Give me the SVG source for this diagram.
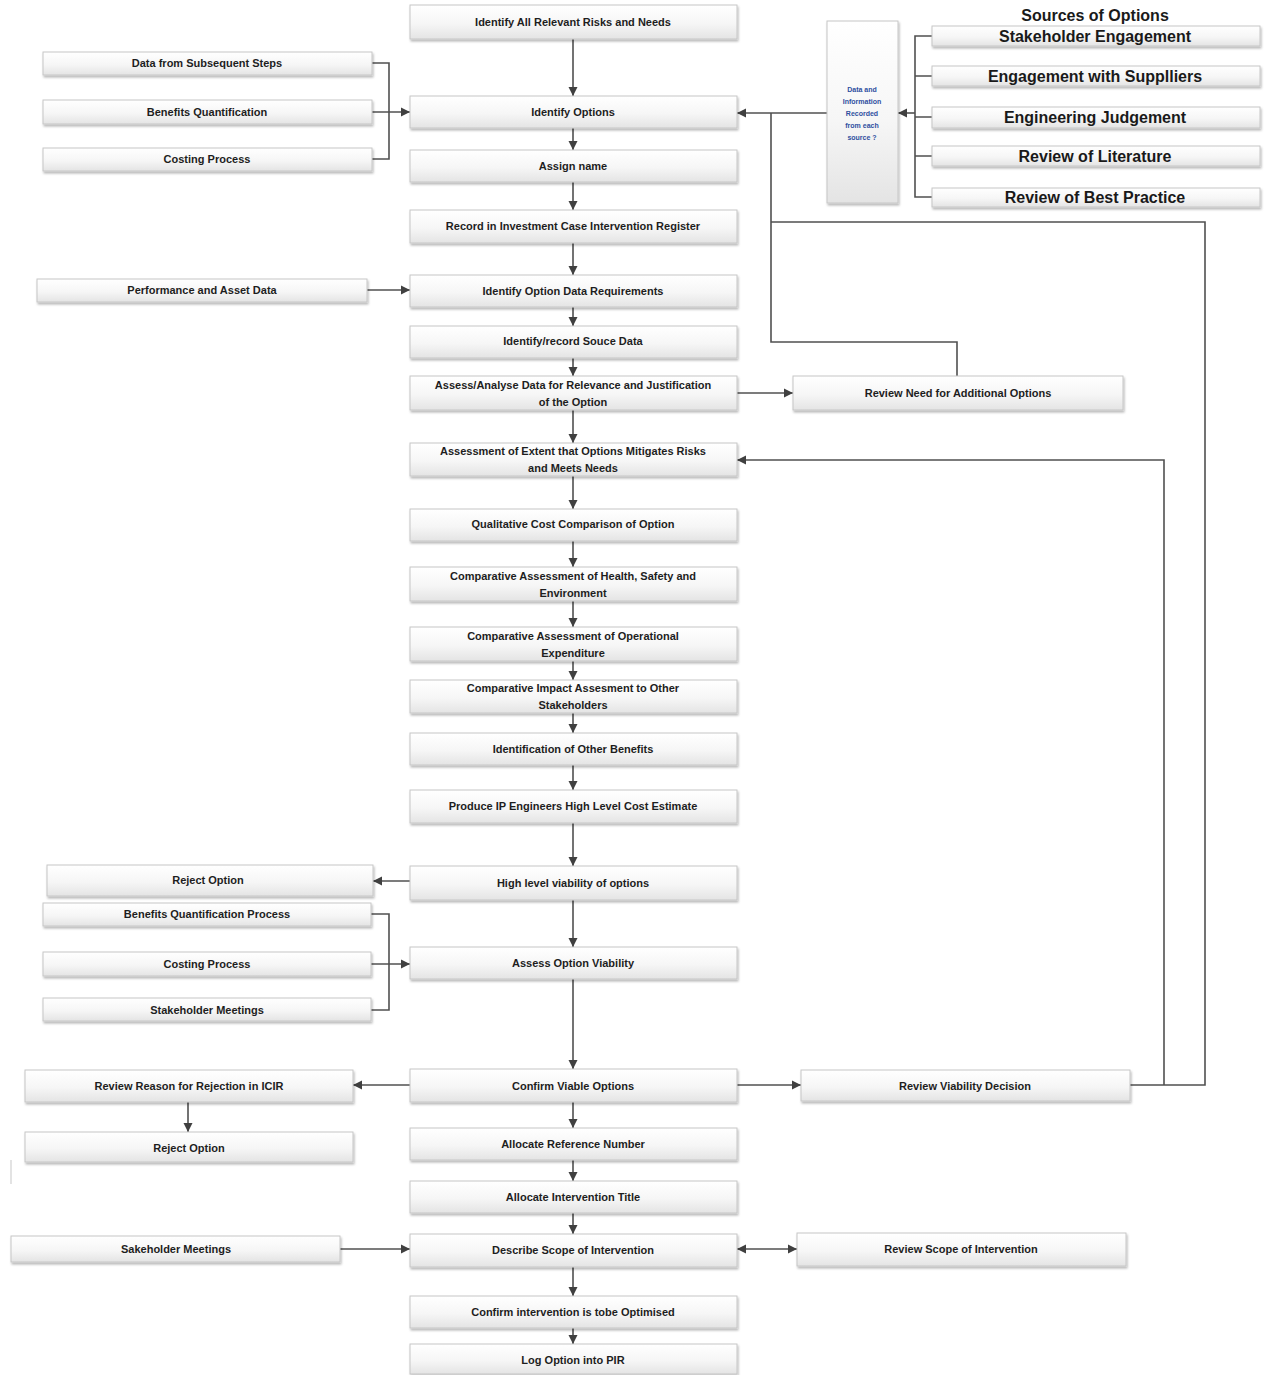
<svg xmlns="http://www.w3.org/2000/svg" width="1268" height="1375" viewBox="0 0 1268 1375">
  <defs>
    <linearGradient id="boxFill" x1="0" y1="0" x2="0" y2="1">
      <stop offset="0" stop-color="#ffffff"/>
      <stop offset="0.55" stop-color="#f6f6f6"/>
      <stop offset="1" stop-color="#e4e4e4"/>
    </linearGradient>
    <filter id="shadow" x="-5%" y="-20%" width="110%" height="160%">
      <feDropShadow dx="1" dy="2" stdDeviation="1" flood-color="#000" flood-opacity="0.28"/>
    </filter>
    <marker id="arrow" markerUnits="userSpaceOnUse" markerWidth="10" markerHeight="10" refX="9" refY="5" orient="auto-start-reverse">
      <path d="M0,0.5 L9,5 L0,9.5 z" fill="#404040"/>
    </marker>
    <style>
      .box { fill: url(#boxFill); stroke: #c6c6c6; stroke-width: 1; filter: url(#shadow); }
      .t { font-family: "Liberation Sans", Arial, sans-serif; font-weight: bold; font-size: 11px; fill: #1e1e1e; text-anchor: middle; dominant-baseline: central; }
      .big { font-size: 16px; fill: #1a1a1a; }
      .note { font-family: "Liberation Sans", Arial, sans-serif; font-weight: bold; font-size: 7px; fill: #2f4f9f; text-anchor: middle; }
      .ln { fill: none; stroke: #505050; stroke-width: 1.6; }
      .arr { marker-end: url(#arrow); }
      .both { marker-start: url(#arrow); marker-end: url(#arrow); }
    </style>
  </defs>

  <!-- connectors -->
  <g id="connectors">
    <!-- main column -->
    <path class="ln arr" d="M573,39 V96"/>
    <path class="ln arr" d="M573,128 V150"/>
    <path class="ln arr" d="M573,182 V210"/>
    <path class="ln arr" d="M573,243 V275"/>
    <path class="ln arr" d="M573,307 V326"/>
    <path class="ln arr" d="M573,358 V376"/>
    <path class="ln arr" d="M573,410 V443"/>
    <path class="ln arr" d="M573,476 V509"/>
    <path class="ln arr" d="M573,541 V567"/>
    <path class="ln arr" d="M573,601 V627"/>
    <path class="ln arr" d="M573,661 V680"/>
    <path class="ln arr" d="M573,713 V733"/>
    <path class="ln arr" d="M573,765 V790"/>
    <path class="ln arr" d="M573,823 V866"/>
    <path class="ln arr" d="M573,900 V947"/>
    <path class="ln arr" d="M573,979 V1069"/>
    <path class="ln arr" d="M573,1102 V1128"/>
    <path class="ln arr" d="M573,1160 V1181"/>
    <path class="ln arr" d="M573,1213 V1234"/>
    <path class="ln arr" d="M573,1267 V1296"/>
    <path class="ln arr" d="M573,1328 V1344"/>

    <!-- inputs to Identify Options -->
    <path class="ln" d="M372,63 H389 V159 H372"/>
    <path class="ln arr" d="M372,112 H410"/>
    <!-- performance data -->
    <path class="ln arr" d="M367,290 H410"/>

    <!-- sources of options -->
    <path class="ln" d="M932,36 H915 V197 H932"/>
    <path class="ln" d="M915,76 H932 M915,117 H932 M915,156 H932"/>
    <path class="ln arr" d="M915,113 H898"/>
    <path class="ln arr" d="M827,113 H737"/>

    <!-- feedback loops -->
    <path class="ln" d="M957,376 V342 H771 V113"/>
    <path class="ln" d="M771,222 H1205 V1085 H1130"/>
    <path class="ln arr" d="M1164,1085 V460 H737"/>
    <path class="ln arr" d="M737,393 H793"/>

    <!-- viability -->
    <path class="ln arr" d="M410,881 H373"/>
    <path class="ln" d="M371,914 H389 V1010 H371"/>
    <path class="ln arr" d="M371,964 H410"/>
    <path class="ln arr" d="M410,1085 H353"/>
    <path class="ln arr" d="M188,1102 V1132"/>
    <path class="ln arr" d="M737,1085 H801"/>

    <!-- scope -->
    <path class="ln arr" d="M340,1249 H410"/>
    <path class="ln both" d="M737,1249 H797"/>

    <path d="M11,1160 V1184" stroke="#d0d0d0" stroke-width="1.2" fill="none"/>
  </g>

  <!-- main column nodes -->
  <g id="n-risks"><rect class="box" x="410" y="5" width="327" height="34"/><text class="t" x="573" y="22">Identify All Relevant  Risks and Needs</text></g>
  <g id="n-options"><rect class="box" x="410" y="96" width="327" height="32"/><text class="t" x="573" y="112">Identify Options</text></g>
  <g id="n-name"><rect class="box" x="410" y="150" width="327" height="32"/><text class="t" x="573" y="166">Assign name</text></g>
  <g id="n-register"><rect class="box" x="410" y="210" width="327" height="33"/><text class="t" x="573" y="226">Record in Investment Case Intervention Register</text></g>
  <g id="n-datareq"><rect class="box" x="410" y="275" width="327" height="32"/><text class="t" x="573" y="291">Identify Option Data Requirements</text></g>
  <g id="n-source"><rect class="box" x="410" y="326" width="327" height="32"/><text class="t" x="573" y="341">Identify/record Souce Data</text></g>
  <g id="n-analyse"><rect class="box" x="410" y="376" width="327" height="34"/><text class="t" x="573" y="385">Assess/Analyse Data for Relevance and Justification</text><text class="t" x="573" y="402">of the Option</text></g>
  <g id="n-extent"><rect class="box" x="410" y="443" width="327" height="33"/><text class="t" x="573" y="451">Assessment of Extent that Options Mitigates Risks</text><text class="t" x="573" y="468">and Meets Needs</text></g>
  <g id="n-qualcost"><rect class="box" x="410" y="509" width="327" height="32"/><text class="t" x="573" y="524">Qualitative Cost Comparison of Option</text></g>
  <g id="n-hse"><rect class="box" x="410" y="567" width="327" height="34"/><text class="t" x="573" y="576">Comparative  Assessment of Health, Safety and</text><text class="t" x="573" y="593">Environment</text></g>
  <g id="n-opex"><rect class="box" x="410" y="627" width="327" height="34"/><text class="t" x="573" y="636">Comparative Assessment of  Operational</text><text class="t" x="573" y="653">Expenditure</text></g>
  <g id="n-impact"><rect class="box" x="410" y="680" width="327" height="33"/><text class="t" x="573" y="688">Comparative Impact  Assesment to Other</text><text class="t" x="573" y="705">Stakeholders</text></g>
  <g id="n-benefits"><rect class="box" x="410" y="733" width="327" height="32"/><text class="t" x="573" y="749">Identification of Other Benefits</text></g>
  <g id="n-estimate"><rect class="box" x="410" y="790" width="327" height="33"/><text class="t" x="573" y="806">Produce IP Engineers High Level Cost Estimate</text></g>
  <g id="n-highlevel"><rect class="box" x="410" y="866" width="327" height="34"/><text class="t" x="573" y="883">High level viability of options</text></g>
  <g id="n-assessviab"><rect class="box" x="410" y="947" width="327" height="32"/><text class="t" x="573" y="963">Assess Option Viability</text></g>
  <g id="n-confirm"><rect class="box" x="410" y="1069" width="327" height="33"/><text class="t" x="573" y="1086">Confirm Viable Options</text></g>
  <g id="n-refno"><rect class="box" x="410" y="1128" width="327" height="32"/><text class="t" x="573" y="1144">Allocate Reference Number</text></g>
  <g id="n-title"><rect class="box" x="410" y="1181" width="327" height="32"/><text class="t" x="573" y="1197">Allocate  Intervention Title</text></g>
  <g id="n-scope"><rect class="box" x="410" y="1234" width="327" height="33"/><text class="t" x="573" y="1250">Describe Scope of Intervention</text></g>
  <g id="n-optimise"><rect class="box" x="410" y="1296" width="327" height="32"/><text class="t" x="573" y="1312">Confirm intervention is tobe Optimised</text></g>
  <g id="n-pir"><rect class="box" x="410" y="1344" width="327" height="30"/><text class="t" x="573" y="1360">Log Option into PIR</text></g>

  <!-- left side inputs -->
  <g id="n-subsequent"><rect class="box" x="43" y="52" width="329" height="23"/><text class="t" x="207" y="63">Data from Subsequent Steps</text></g>
  <g id="n-benq"><rect class="box" x="43" y="100" width="329" height="24"/><text class="t" x="207" y="112">Benefits Quantification</text></g>
  <g id="n-costing1"><rect class="box" x="43" y="148" width="329" height="23"/><text class="t" x="207" y="159">Costing Process</text></g>
  <g id="n-perf"><rect class="box" x="37" y="279" width="330" height="23"/><text class="t" x="202" y="290">Performance and Asset Data</text></g>
  <g id="n-reject1"><rect class="box" x="47" y="865" width="326" height="31"/><text class="t" x="208" y="880">Reject Option</text></g>
  <g id="n-benqp"><rect class="box" x="43" y="903" width="328" height="23"/><text class="t" x="207" y="914">Benefits Quantification Process</text></g>
  <g id="n-costing2"><rect class="box" x="43" y="952" width="328" height="24"/><text class="t" x="207" y="964">Costing Process</text></g>
  <g id="n-meet1"><rect class="box" x="43" y="998" width="328" height="23"/><text class="t" x="207" y="1010">Stakeholder Meetings</text></g>
  <g id="n-reason"><rect class="box" x="25" y="1070" width="328" height="32"/><text class="t" x="189" y="1086">Review Reason for Rejection in ICIR</text></g>
  <g id="n-reject2"><rect class="box" x="25" y="1132" width="328" height="30"/><text class="t" x="189" y="1148">Reject Option</text></g>
  <g id="n-meet2"><rect class="box" x="11" y="1236" width="329" height="26"/><text class="t" x="176" y="1249">Sakeholder Meetings</text></g>

  <!-- right side -->
  <g id="n-record"><rect class="box" x="827" y="21" width="71" height="182"/>
    <text class="note" x="862" y="92">Data and</text>
    <text class="note" x="862" y="104">Information</text>
    <text class="note" x="862" y="116">Recorded</text>
    <text class="note" x="862" y="128">from each</text>
    <text class="note" x="862" y="140">source ?</text>
  </g>
  <g id="sources-title"><text class="t big" x="1095" y="15">Sources of Options</text></g>
  <g id="n-stake"><rect class="box" x="932" y="26" width="328" height="20"/><text class="t big" x="1095" y="36">Stakeholder Engagement</text></g>
  <g id="n-suppliers"><rect class="box" x="932" y="66" width="328" height="20"/><text class="t big" x="1095" y="76">Engagement with Supplliers</text></g>
  <g id="n-judgement"><rect class="box" x="932" y="107" width="328" height="21"/><text class="t big" x="1095" y="117">Engineering Judgement</text></g>
  <g id="n-literature"><rect class="box" x="932" y="146" width="328" height="20"/><text class="t big" x="1095" y="156">Review of Literature</text></g>
  <g id="n-practice"><rect class="box" x="932" y="188" width="328" height="19"/><text class="t big" x="1095" y="197">Review of Best Practice</text></g>
  <g id="n-addopts"><rect class="box" x="793" y="376" width="330" height="34"/><text class="t" x="958" y="393">Review Need for Additional Options</text></g>
  <g id="n-viabdec"><rect class="box" x="801" y="1070" width="329" height="31"/><text class="t" x="965" y="1086">Review Viability Decision</text></g>
  <g id="n-revscope"><rect class="box" x="797" y="1233" width="329" height="33"/><text class="t" x="961" y="1249">Review Scope of Intervention</text></g>
</svg>
